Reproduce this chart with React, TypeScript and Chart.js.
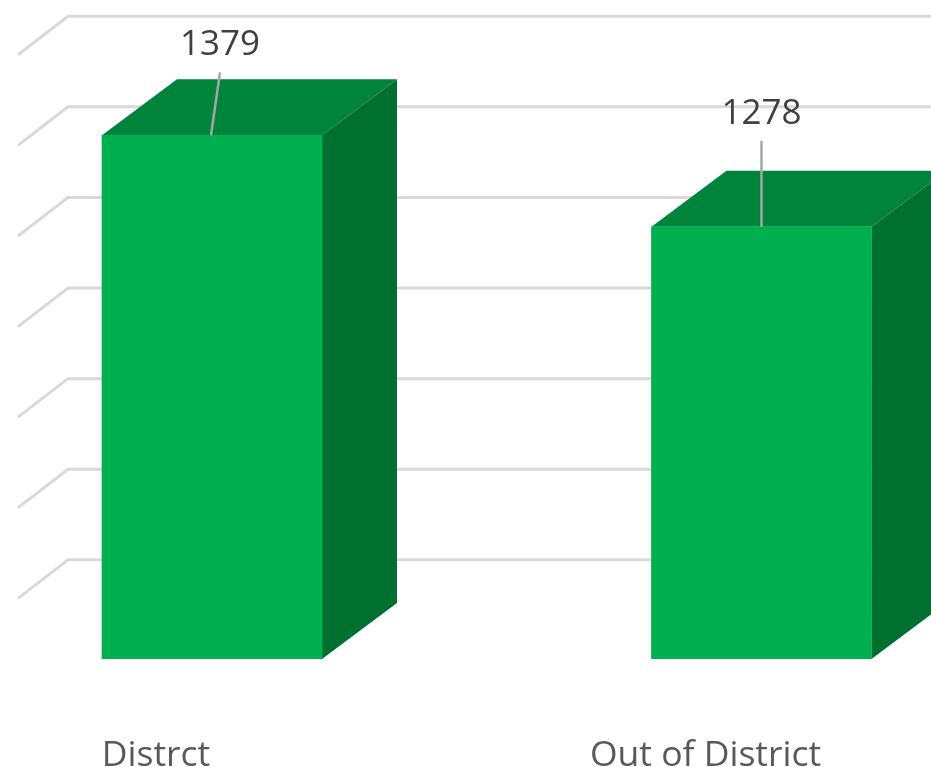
import React, { useEffect, useRef } from "react";
import { Chart, registerables } from "chart.js";

Chart.register(...registerables);

const categories = ["Distrct", "Out of District"];
const enrollment = [1379, 1278];
const gridValues = [850, 950, 1050, 1150, 1250, 1350, 1450];
const leaderDx = [8, 0];
const leaderDy = [-63, -86];
const labelDy = [-93, -116];

const DEPTH_X = 75;
const DEPTH_Y = 56;
const GRID_DEPTH_Y = 54.75;
const FONT = '"Open Sans", sans-serif';

const box3d = {
  id: "box3d",
  beforeDatasetsDraw(chart: any) {
    const { ctx, chartArea, scales } = chart;
    ctx.save();
    ctx.strokeStyle = "#D9D9D9";
    ctx.lineWidth = 3;
    ctx.lineJoin = "miter";
    gridValues.forEach((v) => {
      const y = scales.y.getPixelForValue(v) - GRID_DEPTH_Y;
      ctx.beginPath();
      ctx.moveTo(18, y + 38.5);
      ctx.lineTo(68, y);
      ctx.lineTo(chartArea.right, y);
      ctx.stroke();
    });
    chart.getDatasetMeta(0).data.forEach((bar: any) => {
      const l = bar.x - bar.width / 2;
      const r = bar.x + bar.width / 2;
      const b = chartArea.bottom;
      ctx.fillStyle = "#00843C";
      ctx.beginPath();
      ctx.moveTo(l, bar.y);
      ctx.lineTo(l + DEPTH_X, bar.y - DEPTH_Y);
      ctx.lineTo(r + DEPTH_X, bar.y - DEPTH_Y);
      ctx.lineTo(r, bar.y);
      ctx.closePath();
      ctx.fill();
      ctx.fillStyle = "#007031";
      ctx.beginPath();
      ctx.moveTo(r, bar.y);
      ctx.lineTo(r + DEPTH_X, bar.y - DEPTH_Y);
      ctx.lineTo(r + DEPTH_X, b - DEPTH_Y);
      ctx.lineTo(r, b);
      ctx.closePath();
      ctx.fill();
    });
    ctx.restore();
  },
  afterDatasetsDraw(chart: any) {
    const { ctx } = chart;
    ctx.save();
    chart.getDatasetMeta(0).data.forEach((bar: any, i: number) => {
      ctx.strokeStyle = "#A6A6A6";
      ctx.lineWidth = 2.5;
      ctx.beginPath();
      ctx.moveTo(bar.x - (i === 0 ? 1 : 0), bar.y);
      ctx.lineTo(bar.x + leaderDx[i], bar.y + leaderDy[i]);
      ctx.stroke();
      ctx.fillStyle = "#404040";
      ctx.font = `35px ${FONT}`;
      ctx.textAlign = "center";
      ctx.textBaseline = "middle";
      ctx.fillText(String(enrollment[i]), bar.x + leaderDx[i], bar.y + labelDy[i] + 3);
    });
    ctx.restore();
  },
};

export default function App() {
  const ref = useRef<HTMLCanvasElement | null>(null);
  useEffect(() => {
    document.body.style.margin = "0";
    document.body.style.background = "#FFFFFF";
    const chart = new Chart(ref.current as HTMLCanvasElement, {
      type: "bar",
      data: {
        datasets: [
          {
            label: "Enrollment",
            data: enrollment.map((y, x) => ({ x, y })),
            backgroundColor: "#00B050",
            barThickness: 220,
            borderWidth: 0,
          },
        ],
      },
      options: {
        animation: false,
        responsive: false,
        plugins: { legend: { display: false }, tooltip: { enabled: false } },
        scales: {
          x: {
            type: "linear",
            offset: false,
            min: -0.3858,
            max: 1.3085,
            grid: { display: false },
            border: { display: false },
            afterBuildTicks: (s: any) => {
              s.ticks = categories.map((_, value) => ({ value }));
            },
            afterFit: (s: any) => {
              s.height = 108;
              s.paddingLeft = 0;
              s.paddingRight = 0;
            },
            ticks: {
              autoSkip: false,
              maxRotation: 0,
              minRotation: 0,
              labelOffset: -56,
              padding: 68,
              color: "#595959",
              font: { family: FONT, size: 35.5 },
              callback: (v: number) => categories[v],
            },
          },
          y: {
            display: false,
            min: 801,
            max: 1528.4,
          },
        },
      },
      plugins: [box3d],
    } as any);
    return () => chart.destroy();
  }, []);
  return (
    <canvas
      ref={ref}
      width={931}
      height={767}
      style={{ display: "block", width: 931, height: 767 }}
    />
  );
}
